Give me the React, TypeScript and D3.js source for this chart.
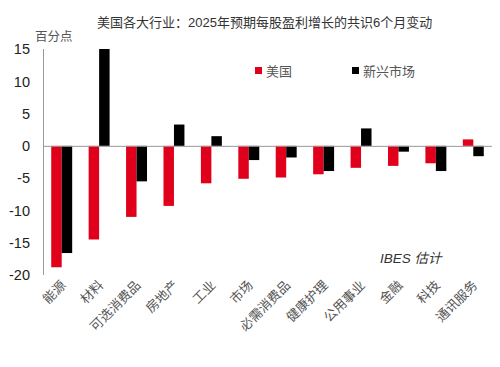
import React, { useEffect, useRef } from 'react'
import * as d3 from 'd3'

const categories = ['能源', '材料', '可选消费品', '房地产', '工业', '市场', '必需消费品', '健康护理', '公用事业', '金融', '科技', '通讯服务']
const usValues = [-18.8, -14.5, -11.0, -9.3, -5.8, -5.1, -4.9, -4.4, -3.4, -3.1, -2.7, 1.0]
const emValues = [-16.6, 15.0, -5.5, 3.3, 1.5, -2.2, -1.8, -3.9, 2.7, -0.9, -3.9, -1.6]
const yTicks = [15, 10, 5, 0, -5, -10, -15, -20]
const seriesNames = ['美国', '新兴市场']
const colors = ['#e0001b', '#000000']

const FONT = '"Liberation Sans", "Noto Sans CJK SC", sans-serif'

function drawChart(el: SVGSVGElement) {
    const svg = d3.select(el)
    svg.selectAll('*').remove()

    const x = d3.scaleBand().domain(categories).range([43, 492]).paddingInner(0.44).paddingOuter(0.22)
    const y = d3.scaleLinear().domain([-20, 15]).range([275, 49])

    svg.append('rect').attr('width', 500).attr('height', 367).attr('fill', '#fff')

    // title
    svg.append('text')
        .attr('x', 97).attr('y', 27)
        .attr('font-size', 13).attr('fill', '#333')
        .attr('font-family', FONT)
        .text('美国各大行业：2025年预期每股盈利增长的共识6个月变动')

    svg.append('text')
        .attr('x', 35).attr('y', 41)
        .attr('font-size', 12.5).attr('fill', '#555')
        .attr('font-family', FONT)
        .text('百分点')

    // y axis labels
    svg.append('g').selectAll('text')
        .data(yTicks)
        .enter()
        .append('text')
        .attr('x', 30)
        .attr('y', d => y(d))
        .attr('dy', '0.36em')
        .attr('text-anchor', 'end')
        .attr('font-size', 14.5)
        .attr('fill', '#222')
        .attr('font-family', FONT)
        .text(d => String(d))

    // bars
    const bw = x.bandwidth() / 2
    const series = [usValues, emValues]
    series.forEach((vals, si) => {
        svg.append('g').selectAll('rect')
            .data(vals)
            .enter()
            .append('rect')
            .attr('x', (d, i) => (x(categories[i]) as number) + si * bw)
            .attr('y', d => y(Math.max(0, d)))
            .attr('width', bw)
            .attr('height', d => Math.abs(y(d) - y(0)))
            .attr('fill', colors[si])
    })

    // axis lines
    svg.append('line')
        .attr('x1', 43.5).attr('x2', 43.5).attr('y1', y(15)).attr('y2', y(-20))
        .attr('stroke', '#999').attr('stroke-width', 1)
    svg.append('line')
        .attr('x1', 43).attr('x2', 492).attr('y1', y(0) + 0.5).attr('y2', y(0) + 0.5)
        .attr('stroke', '#999').attr('stroke-width', 1)

    // x labels
    svg.append('g').selectAll('text')
        .data(categories)
        .enter()
        .append('text')
        .attr('transform', d => {
            const cx = (x(d) as number) + x.bandwidth() / 2 + 5
            return `translate(${cx},286) rotate(-45)`
        })
        .attr('text-anchor', 'end')
        .attr('font-size', 13)
        .attr('fill', '#555')
        .attr('font-family', FONT)
        .text(d => d)

    // legend
    const legendX = [255, 352]
    seriesNames.forEach((name, i) => {
        svg.append('rect')
            .attr('x', legendX[i]).attr('y', 67)
            .attr('width', 7).attr('height', 7)
            .attr('fill', colors[i])
        svg.append('text')
            .attr('x', legendX[i] + 11).attr('y', 76)
            .attr('font-size', 13).attr('fill', '#555')
            .attr('font-family', FONT)
            .text(name)
    })

    svg.append('text')
        .attr('x', 380).attr('y', 263)
        .attr('font-size', 13.5).attr('font-style', 'italic').attr('fill', '#333')
        .attr('font-family', FONT)
        .text('IBES 估计')
}

const App = () => {
    const ref = useRef<SVGSVGElement>(null)
    useEffect(() => {
        if (ref.current) drawChart(ref.current)
    }, [])
    return (
        <svg ref={ref} width={500} height={367} style={{ position: 'absolute', left: 0, top: 0 }} />
    )
}

export default App
